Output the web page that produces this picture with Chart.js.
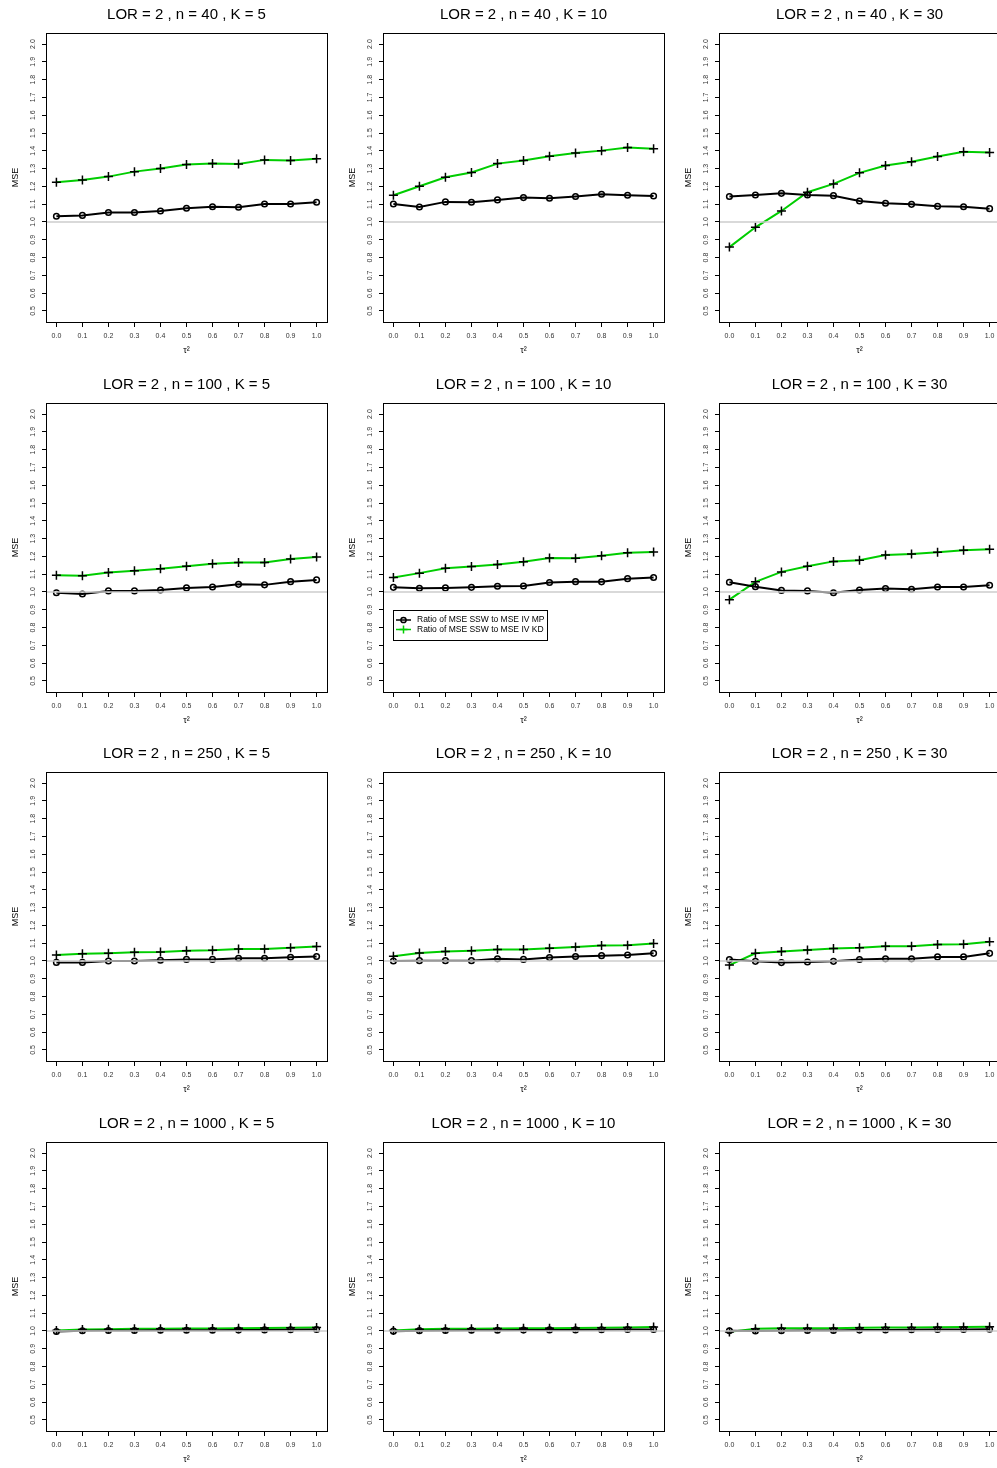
<!DOCTYPE html>
<html>
<head>
<meta charset="utf-8">
<title>Ratio of MSE</title>
<script src="https://cdn.jsdelivr.net/npm/chart.js@4.4.1/dist/chart.umd.min.js"></script>
<style>
  html, body { margin: 0; padding: 0; background: #fff; overflow: hidden; }
  #page { position: relative; width: 997px; height: 1468px; overflow: hidden; }
  #page canvas { position: absolute; }
</style>
</head>
<body>
<div id="page"></div>
<script>
// x values (tau^2) and axis ticks
const tau2 = [0.0, 0.1, 0.2, 0.3, 0.4, 0.5, 0.6, 0.7, 0.8, 0.9, 1.0];
const yTicks = [0.5, 0.6, 0.7, 0.8, 0.9, 1.0, 1.1, 1.2, 1.3, 1.4, 1.5, 1.6, 1.7, 1.8, 1.9, 2.0];
const lor = 2;
const sampleSizes = [40, 100, 250, 1000];
const studyCounts = [5, 10, 30];
const labelMP = 'Ratio of MSE SSW to MSE IV MP';
const labelKD = 'Ratio of MSE SSW to MSE IV KD';

// n = 40
const mp_n40_k5  = [1.032, 1.037, 1.053, 1.053, 1.062, 1.077, 1.086, 1.083, 1.101, 1.101, 1.111];
const kd_n40_k5  = [1.223, 1.236, 1.255, 1.283, 1.300, 1.323, 1.328, 1.326, 1.349, 1.345, 1.355];
const mp_n40_k10 = [1.101, 1.084, 1.113, 1.111, 1.124, 1.137, 1.133, 1.143, 1.156, 1.150, 1.146];
const kd_n40_k10 = [1.150, 1.201, 1.251, 1.278, 1.328, 1.345, 1.370, 1.388, 1.401, 1.418, 1.411];
const mp_n40_k30 = [1.143, 1.152, 1.161, 1.152, 1.148, 1.118, 1.105, 1.099, 1.088, 1.086, 1.075];
const kd_n40_k30 = [0.859, 0.970, 1.062, 1.167, 1.214, 1.276, 1.317, 1.338, 1.368, 1.394, 1.390];
// n = 100
const mp_n100_k5  = [0.996, 0.989, 1.006, 1.006, 1.011, 1.023, 1.028, 1.043, 1.040, 1.058, 1.068];
const kd_n100_k5  = [1.094, 1.091, 1.109, 1.119, 1.130, 1.145, 1.158, 1.166, 1.166, 1.185, 1.196];
const mp_n100_k10 = [1.026, 1.021, 1.023, 1.026, 1.032, 1.034, 1.053, 1.058, 1.057, 1.075, 1.081];
const kd_n100_k10 = [1.081, 1.106, 1.134, 1.143, 1.155, 1.170, 1.191, 1.189, 1.204, 1.221, 1.225];
const mp_n100_k30 = [1.055, 1.030, 1.009, 1.006, 0.996, 1.011, 1.019, 1.015, 1.028, 1.028, 1.038];
const kd_n100_k30 = [0.957, 1.057, 1.113, 1.145, 1.172, 1.179, 1.208, 1.213, 1.223, 1.234, 1.240];
// n = 250
const mp_n250_k5  = [0.992, 0.992, 1.000, 1.000, 1.004, 1.009, 1.009, 1.015, 1.015, 1.021, 1.025];
const kd_n250_k5  = [1.034, 1.040, 1.043, 1.049, 1.051, 1.058, 1.060, 1.068, 1.068, 1.075, 1.081];
const mp_n250_k10 = [1.000, 1.002, 1.002, 1.002, 1.013, 1.009, 1.019, 1.025, 1.030, 1.034, 1.043];
const kd_n250_k10 = [1.026, 1.045, 1.053, 1.057, 1.064, 1.064, 1.072, 1.079, 1.087, 1.089, 1.098];
const mp_n250_k30 = [1.008, 0.998, 0.991, 0.994, 0.998, 1.008, 1.013, 1.013, 1.023, 1.023, 1.043];
const kd_n250_k30 = [0.977, 1.043, 1.053, 1.062, 1.070, 1.074, 1.083, 1.083, 1.092, 1.094, 1.108];
// n = 1000
const mp_n1000_k5  = [0.997, 1.001, 1.003, 1.003, 1.004, 1.004, 1.004, 1.005, 1.006, 1.007, 1.008];
const kd_n1000_k5  = [1.003, 1.008, 1.010, 1.012, 1.013, 1.014, 1.014, 1.016, 1.017, 1.018, 1.019];
const mp_n1000_k10 = [0.999, 1.002, 1.003, 1.004, 1.004, 1.005, 1.006, 1.006, 1.007, 1.008, 1.009];
const kd_n1000_k10 = [1.003, 1.010, 1.012, 1.013, 1.014, 1.015, 1.016, 1.017, 1.018, 1.020, 1.022];
const mp_n1000_k30 = [1.001, 1.000, 1.002, 1.003, 1.003, 1.005, 1.006, 1.007, 1.008, 1.008, 1.010];
const kd_n1000_k30 = [0.995, 1.013, 1.015, 1.015, 1.016, 1.018, 1.019, 1.020, 1.021, 1.022, 1.024];

const mpRows = [
    [mp_n40_k5, mp_n40_k10, mp_n40_k30],
    [mp_n100_k5, mp_n100_k10, mp_n100_k30],
    [mp_n250_k5, mp_n250_k10, mp_n250_k30],
    [mp_n1000_k5, mp_n1000_k10, mp_n1000_k30]
];
const kdRows = [
    [kd_n40_k5, kd_n40_k10, kd_n40_k30],
    [kd_n100_k5, kd_n100_k10, kd_n100_k30],
    [kd_n250_k5, kd_n250_k10, kd_n250_k30],
    [kd_n1000_k5, kd_n1000_k10, kd_n1000_k30]
];

const FONT = '"Liberation Sans", Arial, Helvetica, sans-serif';
const GREEN = '#00cd00';
const colLeft = [0, 337, 673];
const rowTop = [0, 370, 739, 1109];
const X_MIN = -0.04, X_MAX = 1.04, Y_MIN = 0.438, Y_MAX = 2.062;

// panel title above plot box
const panelTitle = {
    id: 'panelTitle',
    afterDraw(chart, args, opts) {
        const ctx = chart.ctx, a = chart.chartArea;
        ctx.save();
        ctx.font = '15px ' + FONT;
        ctx.fillStyle = '#000';
        ctx.textAlign = 'center';
        ctx.textBaseline = 'middle';
        ctx.fillText(opts.text, (a.left + a.right) / 2, 15);
        ctx.restore();
    }
};

// black frame round the plot region (like R's box())
const frame = {
    id: 'frame',
    afterDraw(chart) {
        const ctx = chart.ctx, a = chart.chartArea;
        ctx.save();
        ctx.strokeStyle = '#000';
        ctx.lineWidth = 1;
        ctx.strokeRect(a.left + 0.5, a.top + 0.5, a.right - a.left, a.bottom - a.top);
        ctx.restore();
    }
};

// legend box inside the plot area (only on one panel)
const boxLegend = {
    id: 'boxLegend',
    afterDraw(chart, args, opts) {
        if (!opts.show) return;
        const ctx = chart.ctx, a = chart.chartArea;
        const x = Math.round(a.left + 10), y = Math.round(a.top + 207), w = 154, h = 30;
        ctx.save();
        ctx.fillStyle = '#fff';
        ctx.fillRect(x, y, w, h);
        ctx.strokeStyle = '#000';
        ctx.lineWidth = 1;
        ctx.strokeRect(x + 0.5, y + 0.5, w, h);
        ctx.font = '8.5px ' + FONT;
        ctx.textBaseline = 'middle';
        const items = chart.data.datasets.filter(d => d.label);
        items.forEach((ds, i) => {
            const cy = y + 10 + i * 9.5;
            ctx.strokeStyle = ds.borderColor;
            ctx.lineWidth = 1.5;
            ctx.beginPath();
            ctx.moveTo(x + 3, cy);
            ctx.lineTo(x + 18, cy);
            ctx.stroke();
            ctx.strokeStyle = ds.legendMark;
            ctx.beginPath();
            if (ds.pointStyle === 'cross') {
                ctx.moveTo(x + 10.5 - 4, cy); ctx.lineTo(x + 10.5 + 4, cy);
                ctx.moveTo(x + 10.5, cy - 4); ctx.lineTo(x + 10.5, cy + 4);
            } else {
                ctx.arc(x + 10.5, cy, 2.6, 0, Math.PI * 2);
            }
            ctx.stroke();
            ctx.fillStyle = '#000';
            ctx.fillText(ds.label, x + 24, cy);
        });
        ctx.restore();
    }
};

function toPoints(values) {
    return values.map((v, i) => ({ x: tau2[i], y: v }));
}

function makePanel(row, col) {
    const canvas = document.createElement('canvas');
    canvas.width = 337;
    canvas.height = 369;
    canvas.style.left = colLeft[col] + 'px';
    canvas.style.top = rowTop[row] + 'px';
    document.getElementById('page').appendChild(canvas);

    const title = 'LOR = ' + lor + ' , n = ' + sampleSizes[row] + ' , K = ' + studyCounts[col];

    new Chart(canvas, {
        type: 'line',
        data: {
            datasets: [
                {
                    data: [{ x: X_MIN, y: 1 }, { x: X_MAX, y: 1 }],
                    borderColor: '#cccccc',
                    borderWidth: 1.5,
                    pointRadius: 0
                },
                {
                    label: labelMP,
                    data: toPoints(mpRows[row][col]),
                    borderColor: '#000',
                    borderWidth: 2,
                    pointStyle: 'circle',
                    pointRadius: 2.8,
                    pointBorderWidth: 1.5,
                    pointBorderColor: '#000',
                    pointBackgroundColor: 'rgba(0,0,0,0)',
                    legendMark: '#000'
                },
                {
                    label: labelKD,
                    data: toPoints(kdRows[row][col]),
                    borderColor: GREEN,
                    borderWidth: 2,
                    pointStyle: 'cross',
                    pointRadius: 4.5,
                    pointBorderWidth: 1.5,
                    pointBorderColor: '#000',
                    legendMark: GREEN
                }
            ]
        },
        options: {
            responsive: false,
            animation: false,
            devicePixelRatio: 1,
            layout: { padding: { top: 33, right: 10, left: 0, bottom: 0 } },
            plugins: {
                legend: { display: false },
                tooltip: { enabled: false },
                panelTitle: { text: title },
                boxLegend: { show: row === 1 && col === 1 }
            },
            scales: {
                x: {
                    type: 'linear',
                    min: X_MIN,
                    max: X_MAX,
                    afterBuildTicks: s => { s.ticks = tau2.map(v => ({ value: v })); },
                    afterFit: s => { s.height = 47; },
                    ticks: {
                        autoSkip: false,
                        maxRotation: 0,
                        padding: 5,
                        color: '#333',
                        font: { family: FONT, size: 7 },
                        callback: v => Number(v).toFixed(1)
                    },
                    grid: { drawOnChartArea: false, tickLength: 5, tickColor: '#000' },
                    border: { display: false },
                    title: {
                        display: true,
                        text: 'τ²',
                        color: '#000',
                        font: { family: FONT, size: 9 },
                        padding: { top: 0, bottom: 13 }
                    }
                },
                y: {
                    type: 'linear',
                    min: Y_MIN,
                    max: Y_MAX,
                    afterBuildTicks: s => { s.ticks = yTicks.map(v => ({ value: v })); },
                    afterFit: s => { s.width = 46; },
                    ticks: {
                        autoSkip: false,
                        minRotation: 90,
                        maxRotation: 90,
                        crossAlign: 'center',
                        padding: 4,
                        color: '#333',
                        font: { family: FONT, size: 7 },
                        callback: v => Number(v).toFixed(1)
                    },
                    grid: { drawOnChartArea: false, tickLength: 4, tickColor: '#000' },
                    border: { display: false },
                    title: {
                        display: true,
                        text: 'MSE',
                        color: '#000',
                        font: { family: FONT, size: 9 },
                        padding: { top: 10, bottom: 0 }
                    }
                }
            }
        },
        plugins: [panelTitle, frame, boxLegend]
    });
}

for (let r = 0; r < sampleSizes.length; r++) {
    for (let c = 0; c < studyCounts.length; c++) {
        makePanel(r, c);
    }
}
</script>
</body>
</html>
